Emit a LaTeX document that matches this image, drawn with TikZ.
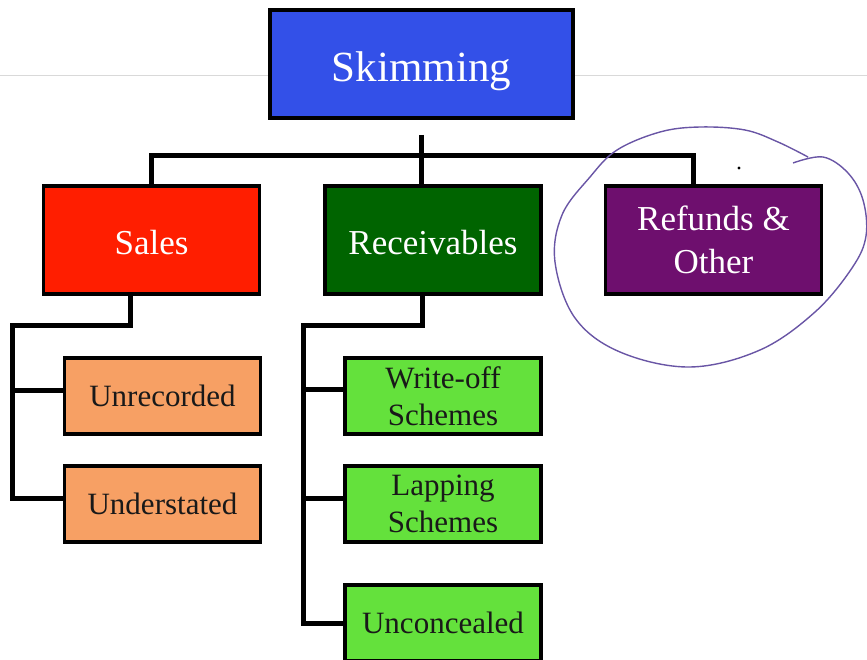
\documentclass[tikz,border=0pt]{standalone}
\usepackage{fontspec}
\setmainfont{Liberation Serif}
\definecolor{skimblue}{RGB}{51,80,232}
\definecolor{salesred}{RGB}{255,30,0}
\definecolor{recvgreen}{RGB}{0,100,0}
\definecolor{refpurple}{RGB}{110,15,110}
\definecolor{suborange}{RGB}{247,160,100}
\definecolor{subgreen}{RGB}{100,225,60}
\definecolor{inkpurple}{RGB}{105,85,165}
\usepackage{tikz}
\usetikzlibrary{calc}

\begin{document}
\begin{tikzpicture}[x=1pt, y=-1pt,
  top/.style={rectangle, draw=black, line width=3.5pt, inner sep=0pt,
              minimum width=216pt, minimum height=108pt, text=white,
              font=\fontsize{35}{43}\selectfont, align=center},
  sub/.style={rectangle, draw=black, line width=3.5pt, inner sep=0pt,
              minimum width=196pt, minimum height=76pt, text=black!90,
              font=\fontsize{31}{37}\selectfont, align=center},
  link/.style={draw=black, line width=5pt},
  ink/.style={draw=inkpurple, line width=1.4pt}
]
\useasboundingbox (0,0) rectangle (867,659);

% slide rule behind the title
\draw[black!15, line width=1pt] (0,75) -- (867,75);

% top level
\node[top, fill=skimblue, minimum width=303pt, font=\fontsize{43}{48}\selectfont]
  (skim) at (421.5,64) {\raisebox{-7pt}[\height][\depth]{Skimming}};
\node[top, fill=salesred]  (sales)  at (151.5,240)
  {\raisebox{-3pt}[\height][\depth]{Sales}};
\node[top, fill=recvgreen] (recv)   at (433,240)
  {\raisebox{-3pt}[\height][\depth]{Receivables}};
\node[top, fill=refpurple] (refund) at (713.5,240) {Refunds \&\\Other};

% sales branch
\node[sub, fill=suborange] (unrec) at (162.5,396) {Unrecorded};
\node[sub, fill=suborange] (under) at (162.5,504) {Understated};

% receivables branch
\node[sub, fill=subgreen] (wo)     at (443,396) {Write-off\\Schemes};
\node[sub, fill=subgreen] (lap)    at (443,504) {Lapping\\Schemes};
\node[sub, fill=subgreen] (unconc) at (443,623) {Unconcealed};

% connectors
\coordinate (bus) at (421.5,155);
\draw[link] ([yshift=-15pt]skim.south) -- (bus);
\draw[link] (sales.north) |- (bus) -| ([xshift=-20.5pt]refund.north);
\draw[link] (bus) -- (bus |- recv.north);

\coordinate (srail) at (12,325);
\draw[link] ([xshift=-21.5pt]sales.south) |- (srail) |- ([yshift=6pt]under.west);
\draw[link] ([yshift=6pt]unrec.west) -- ([yshift=6pt]unrec.west -| srail);

\coordinate (rrail) at (303,325);
\draw[link] ([xshift=-11pt]recv.south) |- (rrail) |- (unconc.west);
\draw[link] ([yshift=7pt]wo.west) -- ([yshift=7pt]wo.west -| rrail);
\draw[link] ([yshift=6pt]lap.west) -- ([yshift=6pt]lap.west -| rrail);

% hand-drawn ring round refunds
\draw[ink] plot[smooth, tension=0.6] coordinates {
  (793,163) (823,157) (848,173) (863,200) (866,236) (852,268) (815,312)
  (760,350) (690,367) (620,352) (575,318) (555,262) (562,215) (590,177)
  (617,150) (660,132) (700,127) (745,130) (778,142) (808,157)};
\fill[black] (739,168) circle (1.6pt);
\end{tikzpicture}
\end{document}
